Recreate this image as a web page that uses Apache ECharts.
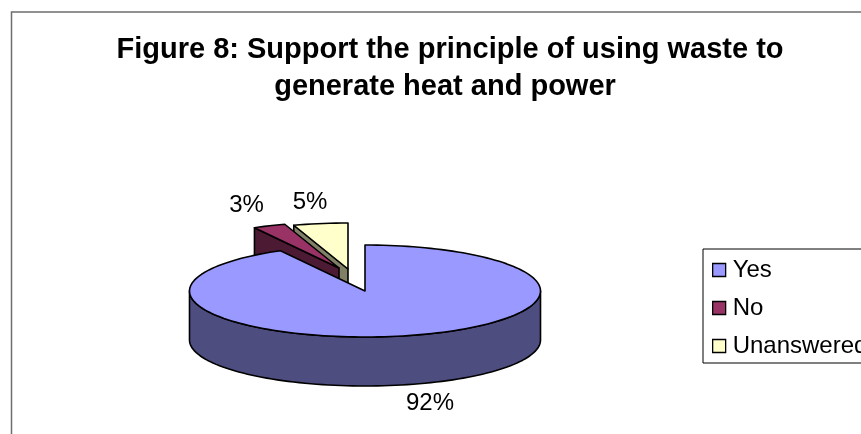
<!DOCTYPE html>
<html>
<head>
<meta charset="utf-8">
<style>html,body{margin:0;padding:0;background:#fff}#chart{width:861px;height:434px}</style>
<script src="https://cdn.jsdelivr.net/npm/echarts@6/dist/echarts.min.js"></script>
</head>
<body>
<div id="chart"></div>
<script>
// Survey responses, percent of respondents
const categories = ['Yes', 'No', 'Unanswered'];
const shares = [92, 3, 5];
const titleLines = ['Figure 8: Support the principle of using waste to', 'generate heat and power'];

const topColors = ['#9999FF', '#993366', '#FFFFCC'];
const sideColors = ['#4D4D80', '#4D1A33', '#808066'];

// Flattened disc geometry, in pixels
const disc = { cx: 365, cy: 291, rx: 175.5, ry: 46, depth: 49 };
// Exploded slices are pulled away from the centre
const pull = [[0, 0], [-26, -23], [-17, -22]];
const labelAt = [[430, 403], [246.5, 205], [310, 202]];
const fontFamily = '"Liberation Sans", Arial, sans-serif';
const titleAt = [[445, 30], [440, 67]];

const total = shares.reduce((a, b) => a + b, 0);
const startOf = i => shares.slice(0, i).reduce((a, b) => a + b, 0) / total * 360;

// Clockwise angle from 12 o'clock onto the flattened disc
function rim(cx, cy, deg, dy) {
  const a = deg * Math.PI / 180;
  return [cx + disc.rx * Math.sin(a), cy - disc.ry * Math.cos(a) + (dy || 0)];
}

function arcPoints(cx, cy, from, to, dy) {
  const pts = [];
  const n = Math.max(2, Math.ceil(Math.abs(to - from) / 2));
  for (let k = 0; k <= n; k++) pts.push(rim(cx, cy, from + (to - from) * k / n, dy));
  return pts;
}

function sliceRenderer(idx) {
  return function (params, api) {
    const from = startOf(idx);
    const to = from + api.value(0) / total * 360;
    const cx = disc.cx + pull[idx][0];
    const cy = disc.cy + pull[idx][1];
    const line = { stroke: '#000', lineWidth: 1.6, lineJoin: 'round' };
    const children = [];
    const poly = (points, fill) => ({
      type: 'polygon',
      shape: { points },
      style: Object.assign({ fill }, line)
    });

    // Outer wall, only where the rim faces the viewer
    const wallFrom = Math.max(from, 90);
    const wallTo = Math.min(to, 270);
    if (wallTo > wallFrom) {
      const upper = arcPoints(cx, cy, wallFrom, wallTo, 0);
      const lower = arcPoints(cx, cy, wallTo, wallFrom, disc.depth);
      children.push(poly(upper.concat(lower), sideColors[idx]));
    }
    // Cut face of the pulled-out slices, visible behind the disc
    if (idx > 0) {
      const p = rim(cx, cy, from, 0);
      children.push(poly([p, [cx, cy], [cx, cy + disc.depth], [p[0], p[1] + disc.depth]], sideColors[idx]));
    }
    // Top surface
    children.push(poly([[cx, cy]].concat(arcPoints(cx, cy, from, to, 0)), topColors[idx]));
    return { type: 'group', children };
  };
}

// Painted back to front: Unanswered, No, Yes
const drawOrder = [2, 1, 0];
const series = drawOrder.map((idx, n) => ({
  type: 'custom',
  name: categories[idx],
  coordinateSystem: 'none',
  silent: true,
  z: 2 + n,
  itemStyle: { color: topColors[idx] },
  data: [[shares[idx]]],
  renderItem: sliceRenderer(idx)
}));

// Percent labels
series.push({
  type: 'custom',
  coordinateSystem: 'none',
  silent: true,
  z: 10,
  data: shares,
  renderItem(params, api) {
    const i = params.dataIndex;
    return {
      type: 'text',
      style: {
        text: api.value(0) + '%',
        x: labelAt[i][0], y: labelAt[i][1],
        fill: '#000',
        font: '24px ' + fontFamily,
        align: 'center', verticalAlign: 'middle'
      }
    };
  }
});

const chart = echarts.init(document.getElementById('chart'), null, { renderer: 'canvas' });
chart.setOption({
  animation: false,
  backgroundColor: '#fff',
  title: titleLines.map((text, i) => ({
    text,
    left: titleAt[i][0],
    top: titleAt[i][1],
    textAlign: 'center',
    textStyle: {
      fontFamily,
      fontWeight: 'bold',
      fontSize: 29,
      color: '#000'
    }
  })),
  legend: {
    data: categories,
    orient: 'vertical',
    left: 703,
    top: 249,
    padding: [9, 60, 5, 9],
    backgroundColor: '#fff',
    borderColor: '#000',
    borderWidth: 1,
    itemWidth: 13,
    itemHeight: 13,
    itemGap: 14,
    icon: 'rect',
    selectedMode: false,
    textStyle: {
      fontFamily,
      fontSize: 24,
      color: '#000',
      padding: [0, 0, 0, 2]
    },
    itemStyle: { borderColor: '#000', borderWidth: 1.3 }
  },
  graphic: [{
    type: 'rect',
    z: 0,
    silent: true,
    shape: { x: 11.5, y: 12, width: 1000, height: 700 },
    style: { fill: 'none', stroke: '#6e6e6e', lineWidth: 1.5 }
  }],
  series
});
</script>
</body>
</html>
